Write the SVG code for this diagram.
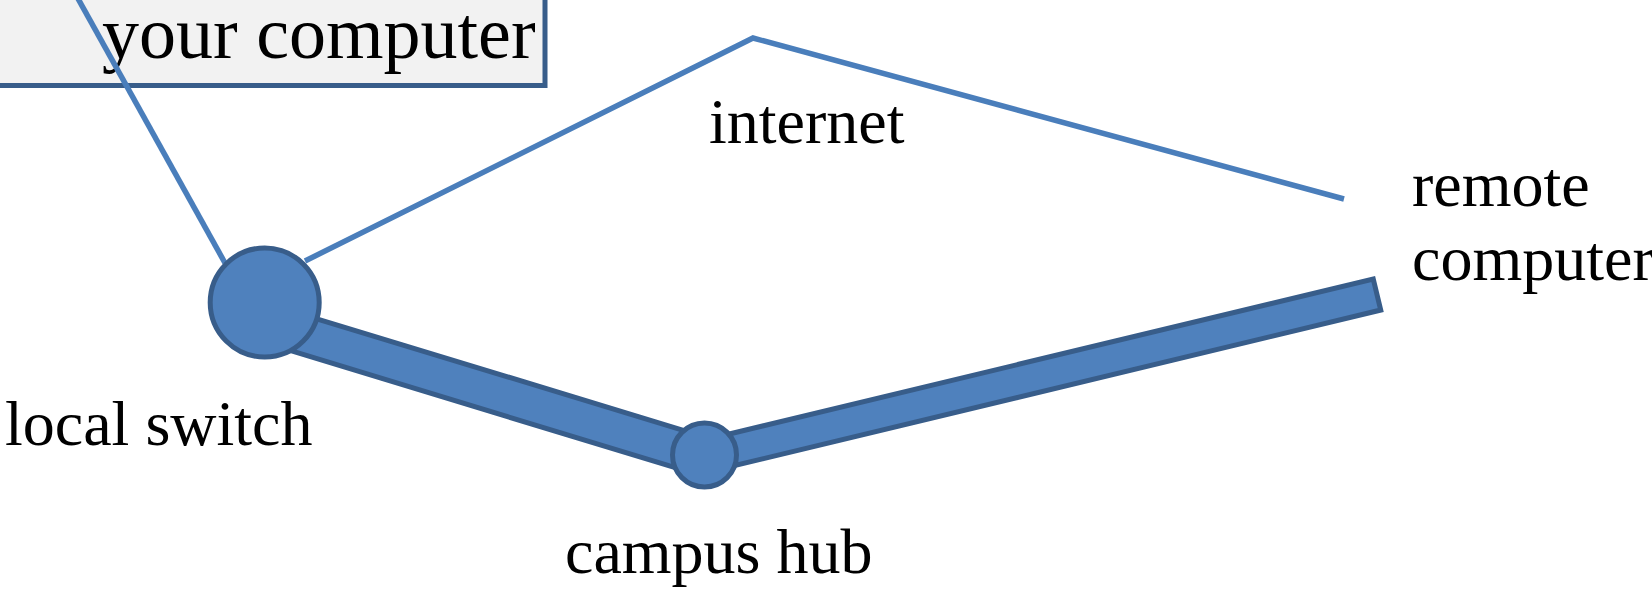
<svg xmlns="http://www.w3.org/2000/svg" width="1652" height="591" viewBox="0 0 1652 591">
<style>
.lbl{font-family:"Liberation Serif","Times New Roman",serif;fill:#000;font-size:64px;}
.thin{fill:none;stroke:#4a7ebb;stroke-width:5.5;}
.node{fill:#4f81bd;stroke:#385d8a;}
</style>
<rect width="1652" height="591" fill="#fff"/>
<g id="your-computer">
<rect x="-10" y="-10" width="555" height="95.5" fill="#f2f2f2" stroke="#385d8a" stroke-width="5"/>
<text class="lbl" x="102" y="58" style="font-size:74px">your computer</text>
</g>
<g id="connectors">
<polyline class="thin" points="76,-5 225,263"/>
<polyline class="thin" points="305,261 753,38 1344,199"/>
<polygon class="node" stroke-width="5" stroke-linejoin="miter" points="275.6,306.3 709.6,438.3 698.4,474.7 264.4,342.7"/>
<polygon class="node" stroke-width="5" stroke-linejoin="miter" points="700.25,440.95 1373.25,278.95 1380.75,310.05 707.75,472.05"/>
</g>
<g id="local-switch">
<circle class="node" cx="264.7" cy="302.5" r="54.5" stroke-width="5"/>
<text class="lbl" x="5" y="445">local switch</text>
</g>
<g id="campus-hub">
<circle class="node" cx="704.5" cy="455" r="32" stroke-width="5"/>
<text class="lbl" x="565" y="573">campus hub</text>
</g>
<g id="internet">
<text class="lbl" x="709" y="143">internet</text>
</g>
<g id="remote-computer">
<text class="lbl" x="1412" y="206">remote</text>
<text class="lbl" x="1412" y="280">computer</text>
</g>
</svg>
